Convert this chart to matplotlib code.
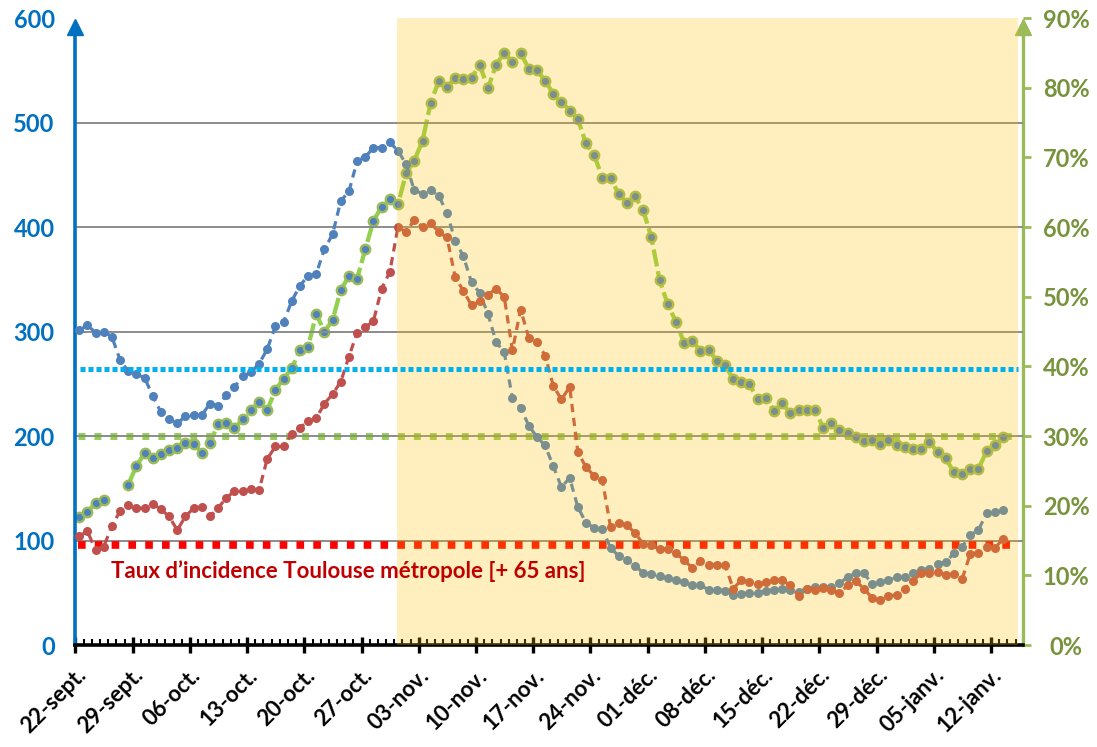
import numpy as np
import matplotlib.pyplot as plt
from matplotlib.transforms import ScaledTranslation

plt.rcParams["font.family"] = ["Lato", "DejaVu Sans"]
plt.rcParams["font.weight"] = "bold"

# Daily values, first point = 22-sept.
incidence_all = [
    301, 306, 299, 300, 295, 273, 262, 259, 256, 238, 223, 216, 212, 219, 220, 220,
    231, 229, 239, 247, 257, 261, 269, 283, 305, 309, 329, 344, 353, 355, 379, 393,
    425, 434, 463, 467, 476, 476, 481, 473, 460, 435, 432, 435, 430, 413, 387, 372,
    347, 337, 317, 290, 280, 236, 227, 210, 199, 191, 171, 151, 160, 132, 117, 112,
    111, 93, 85, 81, 76, 69, 68, 66, 64, 62, 60, 57, 57, 53, 53, 52,
    48, 49, 50, 50, 52, 53, 54, 53, 51, 54, 56, 56, 56, 59, 65, 69,
    69, 58, 60, 62, 65, 65, 69, 72, 73, 78, 79, 88, 94, 105, 110, 126,
    127, 129,
]
incidence_65 = [
    104, 109, 91, 94, 114, 128, 134, 131, 131, 135, 130, 123, 110, 123, 131, 132,
    123, 131, 141, 147, 147, 149, 148, 178, 190, 190, 202, 208, 214, 217, 231, 240,
    252, 276, 299, 304, 310, 341, 357, 400, 395, 407, 400, 404, 395, 390, 352, 339,
    325, 329, 335, 341, 333, 282, 321, 294, 290, 277, 248, 235, 247, 185, 170, 162,
    158, 113, 117, 115, 107, 97, 96, 92, 92, 88, 81, 74, 80, 77, 77, 77,
    54, 62, 60, 58, 60, 62, 62, 57, 47, 54, 53, 55, 53, 50, 57, 61,
    54, 45, 43, 47, 48, 54, 61, 69, 69, 70, 67, 68, 63, 87, 88, 94,
    93, 101,
]
# right axis (%), nan = no value that day
occupancy_pct = [
    18.4, 19.1, 20.4, 20.8, np.nan, np.nan, 23.0, 25.7, 27.5, 26.8, 27.4, 28.0, 28.3, 29.0, 28.9, 27.6,
    29.0, 31.7, 31.9, 31.1, 32.4, 33.7, 34.9, 33.7, 36.6, 38.2, 39.7, 42.3, 42.8, 47.5, 45.0, 46.6,
    51.0, 52.9, 52.6, 56.8, 60.9, 62.9, 64.0, 63.3, 67.7, 69.5, 72.4, 77.8, 81.0, 80.1, 81.4, 81.2,
    81.4, 83.3, 79.9, 83.3, 85.0, 83.7, 85.0, 82.7, 82.5, 81.0, 79.1, 78.0, 76.7, 75.5, 72.0, 70.3,
    67.1, 67.1, 64.7, 63.5, 64.4, 62.4, 58.5, 52.4, 48.9, 46.4, 43.4, 43.7, 42.2, 42.4, 40.8, 40.2,
    38.2, 37.7, 37.4, 35.3, 35.5, 33.6, 34.7, 33.3, 33.8, 33.8, 33.8, 31.2, 31.9, 30.9, 30.5, 29.8,
    29.3, 29.5, 28.9, 29.4, 28.7, 28.4, 28.1, 28.2, 29.2, 27.7, 26.8, 24.8, 24.5, 25.3, 25.3, 27.8,
    28.7, 29.8,
]

tick_labels = ["22-sept.", "29-sept.", "06-oct.", "13-oct.", "20-oct.", "27-oct.",
               "03-nov.", "10-nov.", "17-nov.", "24-nov.", "01-déc.", "08-déc.",
               "15-déc.", "22-déc.", "29-déc.", "05-janv.", "12-janv."]

threshold_all = 264
threshold_65 = 96
threshold_pct = 30

# confinement period, in days after 22-sept.
lockdown_start = 39.35
lockdown_end = 115.3

days = np.arange(len(incidence_all)) + 0.45

fig = plt.figure(figsize=(10.97, 7.47), dpi=100)
ax = fig.add_axes([0.0688, 0.1365, 0.8637, 0.8394])
ax2 = ax.twinx()
ax.set_zorder(ax2.get_zorder() + 1)
ax.patch.set_visible(False)

# right axis: bed occupancy
ax2.axhline(threshold_pct, xmin=0.003, xmax=0.995, color="#92D050", lw=5, dashes=(1, 1.3), zorder=2)
ax2.plot(days, occupancy_pct, color="#92D050", lw=3.1, dashes=(4, 1.1),
         marker="o", ms=6.8, mfc="#4F81BD", mec="#9BBB59", mew=1.7, zorder=3)
ax2.set_ylim(0, 90)
ax2.set_yticks(range(0, 91, 10))
ax2.set_yticklabels([f"{v}%" for v in range(0, 91, 10)], ha="center")
ax2.tick_params(axis="y", direction="out", length=6, width=2, color="#9BBB59",
                labelcolor="#77933C", labelsize=17, pad=25)
for s in ["left", "top", "bottom"]:
    ax2.spines[s].set_visible(False)
ax2.spines["right"].set_color("#9BBB59")
ax2.spines["right"].set_linewidth(2.4)
ax2.spines["right"].set_bounds(0, 88.5)
ax2.plot(1, 0.985, marker="^", color="#9BBB59", ms=11, transform=ax2.transAxes, clip_on=False)

# left axis: incidence
ax.set_ylim(0, 600)
ax.set_yticks(range(0, 601, 100))
for v in ax.get_yticks()[1:-1]:
    ax.axhline(v, color="#8C8C8C", lw=1.4, zorder=1)
ax.axhline(threshold_65, xmin=0.003, xmax=0.995, color="#FF0000", lw=5.5, dashes=(1, 1.2), zorder=2)
ax.plot(days, incidence_all, color="#4F81BD", lw=2.3, dashes=(2.6, 1.8),
        marker="o", ms=6.5, mec="none", zorder=3)
ax.plot(days, incidence_65, color="#C0504D", lw=2.3, dashes=(2.6, 1.8),
        marker="o", ms=6.5, mec="none", zorder=3)

# confinement shading, laid over the curves
ax.axvspan(lockdown_start, lockdown_end, color="#FFC000", alpha=0.25, lw=0, zorder=4)
ax.axhline(threshold_all, xmin=0.005, xmax=0.995, color="#00B0F0", lw=3.6, dashes=(1, 0.6), zorder=5)

ax.text(4.4, 71, "Taux d’incidence Toulouse métropole [+ 65 ans]", color="#C00000",
        fontsize=16, fontweight="bold", va="center", zorder=6)

ax.set_xlim(0, 115.9)
ax.set_xticks(np.arange(0, 7 * len(tick_labels), 7))
ax.set_xticks(np.arange(0, 116, 1), minor=True)
ax.set_xticklabels(tick_labels, rotation=45, ha="right", rotation_mode="anchor", fontsize=16)
offset = ScaledTranslation(0.12, 0, fig.dpi_scale_trans)
for lbl in ax.get_xticklabels():
    lbl.set_transform(lbl.get_transform() + offset)
ax.tick_params(axis="x", which="major", direction="inout", length=12, width=2.4,
               color="black", pad=8)
ax.tick_params(axis="x", which="minor", direction="in", length=4, width=1.5, color="black")
ax.tick_params(axis="y", length=0, labelcolor="#0070C0", labelsize=17, pad=15)

ax.spines["top"].set_visible(False)
ax.spines["right"].set_visible(False)
ax.spines["bottom"].set_color("black")
ax.spines["bottom"].set_linewidth(2.6)
ax.spines["left"].set_color("#0070C0")
ax.spines["left"].set_linewidth(2.6)
ax.spines["left"].set_bounds(0, 590)
ax.plot(0, 0.985, marker="^", color="#0070C0", ms=11, transform=ax.transAxes, clip_on=False, zorder=7)

plt.savefig("out.png", dpi=100)
